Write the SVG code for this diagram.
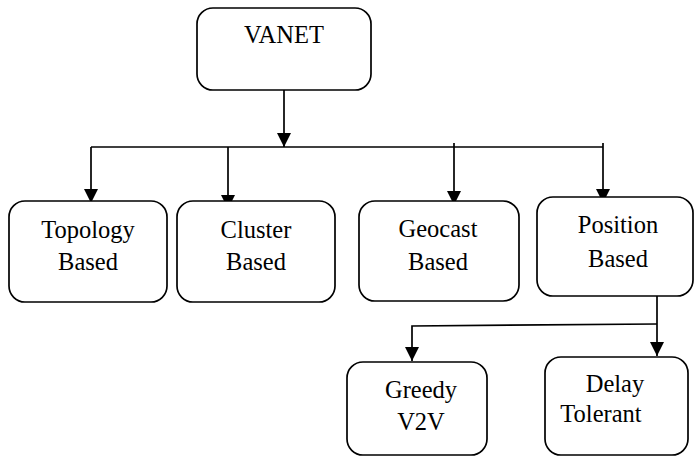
<svg xmlns="http://www.w3.org/2000/svg" width="696" height="462" viewBox="0 0 696 462">
<style>
.box{fill:#fff;stroke:#000;stroke-width:1.7}
.t{font-family:'Liberation Serif','Times New Roman',serif;font-size:24.5px;font-weight:normal;fill:#000;text-anchor:middle}
.c{fill:none;stroke:#000;stroke-width:1.7}
</style>
<defs>
<marker id="ah" markerUnits="userSpaceOnUse" markerWidth="14" markerHeight="14" refX="14" refY="7" orient="auto">
<path d="M0,0 L14,7 L0,14 z" fill="#000"/>
</marker>
</defs>
<g id="connectors">
<line class="c" x1="284" y1="90" x2="284" y2="147" marker-end="url(#ah)"/>
<line class="c" x1="91" y1="147" x2="603" y2="147"/>
<line class="c" x1="91" y1="147" x2="91" y2="203" marker-end="url(#ah)"/>
<line class="c" x1="228" y1="147" x2="228" y2="209" marker-end="url(#ah)"/>
<line class="c" x1="454" y1="143" x2="454" y2="205" marker-end="url(#ah)"/>
<line class="c" x1="603" y1="143" x2="603" y2="203" marker-end="url(#ah)"/>
<line class="c" x1="657" y1="296" x2="657" y2="356" marker-end="url(#ah)"/>
<polyline class="c" points="657,324 412,326 412,361" marker-end="url(#ah)"/>
</g>
<g id="vanet">
<rect class="box" x="197" y="8" width="174" height="82" rx="16"/>
<text class="t" x="284" y="43">VANET</text>
</g>
<g id="topology">
<rect class="box" x="9" y="201" width="158" height="101" rx="16"/>
<text class="t" x="88" y="238">Topology</text>
<text class="t" x="88" y="270">Based</text>
</g>
<g id="cluster">
<rect class="box" x="177" y="201" width="158" height="101" rx="16"/>
<text class="t" x="256" y="238">Cluster</text>
<text class="t" x="256" y="270">Based</text>
</g>
<g id="geocast">
<rect class="box" x="359" y="201" width="160" height="100" rx="16"/>
<text class="t" x="438" y="237">Geocast</text>
<text class="t" x="438" y="270">Based</text>
</g>
<g id="position">
<rect class="box" x="537" y="197" width="156" height="99" rx="16"/>
<text class="t" x="618" y="233">Position</text>
<text class="t" x="618" y="267">Based</text>
</g>
<g id="greedy">
<rect class="box" x="347" y="362" width="140" height="93" rx="16"/>
<text class="t" x="421" y="398">Greedy</text>
<text class="t" x="421" y="430">V2V</text>
</g>
<g id="delay">
<rect class="box" x="545" y="357" width="143" height="98" rx="16"/>
<text class="t" x="615" y="392">Delay</text>
<text class="t" x="601" y="422">Tolerant</text>
</g>
</svg>
